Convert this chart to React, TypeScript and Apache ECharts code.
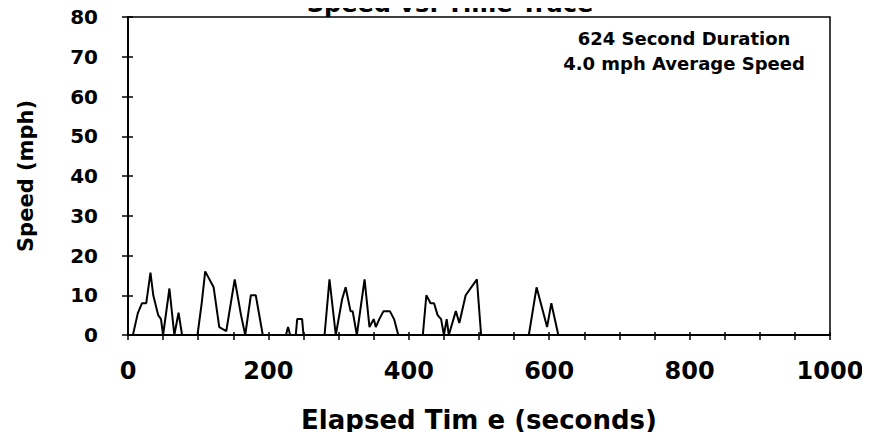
import React, { useEffect, useRef } from "react";
import * as echarts from "echarts";

const times = [0, 7, 14, 20, 26, 32, 36, 43, 47, 50, 59, 66, 72, 77, 99, 105, 110, 116, 122, 130, 140, 152, 161, 167, 175, 182, 192, 225, 228, 231, 239, 241, 248, 250, 280, 287, 296, 305, 310, 317, 320, 326, 337, 344, 350, 353, 358, 364, 373, 379, 385, 420, 425, 431, 436, 441, 446, 450, 454, 457, 467, 472, 481, 493, 497, 503, 571, 582, 597, 603, 613, 624];
const speeds = [0, 0, 5.5, 8, 8, 15.7, 10, 5, 4, 0, 11.7, 0, 5.6, 0, 0, 8, 16, 14, 12, 2, 1, 14, 5, 0, 10, 10, 0, 0, 2, 0, 0, 4, 4, 0, 0, 14, 0, 9, 12, 6, 6, 0, 14, 2, 4, 2, 4, 6, 6, 4, 0, 0, 10, 8, 8, 5, 4, 0, 4, 0, 6, 3, 10, 13, 14, 0, 0, 12, 2, 8, 0, 0];
const xLabelTicks = [0, 200, 400, 600, 800, 1000];
const chartTitle = "Speed vs. Time Trace";
const xName = "Elapsed Tim e (seconds)";
const yName = "Speed (mph)";
const noteLines = ["624 Second Duration", "4.0 mph Average Speed"];

const FONT = "'DejaVu Sans', sans-serif";

export default function App() {
  const ref = useRef<HTMLDivElement>(null);
  useEffect(() => {
    if (!ref.current) return;
    const chart = echarts.init(ref.current, null, { renderer: "svg" });
    const data = times.map((t, i) => [t, speeds[i]]);
    const baseX = { type: "value", min: 0, max: 1000, interval: 50 } as any;
    const baseY = { type: "value", min: 0, max: 80, interval: 10 } as any;
    chart.setOption({
      animation: false,
      backgroundColor: "#fff",
      grid: { left: 128, right: 40, top: 17, bottom: 105, show: true, borderColor: "#000", borderWidth: 1.5, containLabel: false },
      graphic: [
        {
          type: "text", x: 450, y: 16,
          style: { text: chartTitle, textAlign: "center", textVerticalAlign: "bottom", font: `bold 24px ${FONT}`, fill: "#000" },
        },
        {
          type: "text", x: 684, y: 26,
          style: { text: noteLines.join("\n"), textAlign: "center", textVerticalAlign: "top", font: `bold 18px ${FONT}`, lineHeight: 25, fill: "#000" },
        },
      ],
      xAxis: [
        {
          ...baseX,
          name: xName, nameLocation: "middle", nameGap: 72,
          nameTextStyle: { fontFamily: FONT, fontWeight: "bold", fontSize: 26, color: "#000" },
          axisLine: { show: true, lineStyle: { color: "#000", width: 2 } },
          axisTick: { show: true, length: 5, lineStyle: { color: "#000", width: 1.5 } },
          axisLabel: {
            margin: 24, fontFamily: FONT, fontWeight: "bold", fontSize: 24, color: "#000",
            formatter: (v: number) => (xLabelTicks.includes(v) ? String(v) : ""),
          },
          splitLine: { show: false },
        },
        {
          ...baseX, position: "bottom",
          axisLine: { show: false },
          axisTick: { show: true, inside: true, length: 3, lineStyle: { color: "#000", width: 1.5 } },
          axisLabel: { show: false },
          splitLine: { show: false },
        },
      ],
      yAxis: [
        {
          ...baseY,
          name: yName, nameLocation: "middle", nameGap: 92, nameRotate: 90,
          nameTextStyle: { fontFamily: FONT, fontWeight: "bold", fontSize: 21, color: "#000" },
          axisLine: { show: true, lineStyle: { color: "#000", width: 2 } },
          axisTick: { show: true, length: 6, lineStyle: { color: "#000", width: 1.5 } },
          axisLabel: { margin: 30, fontFamily: FONT, fontWeight: "bold", fontSize: 20, color: "#000" },
          splitLine: { show: false },
        },
        {
          ...baseY, position: "left",
          axisLine: { show: false },
          axisTick: { show: true, inside: true, length: 5, lineStyle: { color: "#000", width: 1.5 } },
          axisLabel: { show: false },
          splitLine: { show: false },
        },
      ],
      series: [
        {
          type: "line", data, xAxisIndex: 0, yAxisIndex: 0,
          showSymbol: false, symbol: "none",
          lineStyle: { color: "#000", width: 2 },
          itemStyle: { color: "#000" },
        },
      ],
    });
    return () => chart.dispose();
  }, []);
  return <div ref={ref} style={{ width: 870, height: 440, margin: -8 }} />;
}
